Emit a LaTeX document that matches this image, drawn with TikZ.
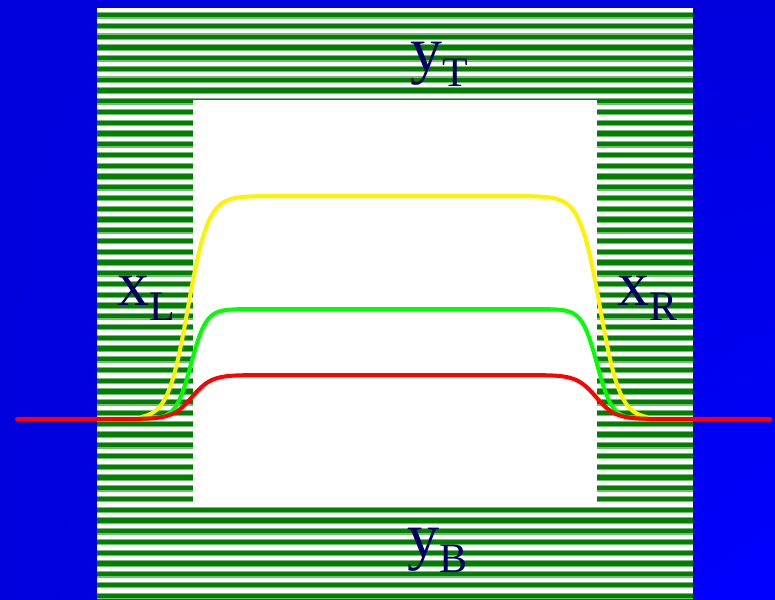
\documentclass[tikz,border=0pt]{standalone}
\usepackage{fontspec}
\setmainfont{Liberation Serif}
\usetikzlibrary{shadings}
\definecolor{bgdark}{RGB}{0,0,221}
\definecolor{bglight}{RGB}{0,0,255}
\definecolor{stripeg}{RGB}{0,128,0}
\definecolor{stripel}{RGB}{120,185,120}
\definecolor{labelc}{RGB}{0,0,100}
\tikzset{
  curve/.style={line width=4pt, line join=round, line cap=round},
  lbl/.style={anchor=base west, inner sep=0pt, text=labelc},
  declare function={lg(\u)=1/(1+exp(-max(-10,min(10,\u))));
                    bump(\x,\a,\b,\s)=lg((\x-\a)/\s)*lg((\b-\x)/\s);}
}
\newcommand{\biglbl}[2]{{\fontsize{64}{64}\selectfont #1}\raisebox{-15pt}{\fontsize{42}{42}\selectfont #2}}
\begin{document}
\begin{tikzpicture}[x=1pt,y=-1pt]
\useasboundingbox (0,0) rectangle (775,599);
% background
\shade[upper left=bgdark, upper right=bgdark, lower left=bgdark, lower right=bglight] (0,0) rectangle (775,599);
% striped frame
\fill[white] (97,8) rectangle (693,599);
\foreach \k in {0,...,55}{
  \pgfmathsetmacro{\yy}{8+\k*10.75}
  \fill[stripel] (97,\yy+4.0) rectangle (693,{min(\yy+10.6,599)});
  \fill[stripeg] (97,\yy+5.2) rectangle (693,{min(\yy+9.4,599)});
}
% inner white panel
\fill[white] (193,100) rectangle (597,503);
% curves
\draw[curve, yellow] (140,419) -- plot[domain=142:646,samples=220] (\x,{419-223*bump(\x,188,600,10)}) -- (648,419);
\draw[curve, green] (140,419) -- plot[domain=142:646,samples=220] (\x,{419-110*bump(\x,191,597,7.5)}) -- (648,419);
\draw[curve, red] (17,419) -- plot[domain=140:648,samples=220] (\x,{419-44*bump(\x,192,596,9.7)}) -- (770,419);
% labels
\node[lbl] (yT) at (410,72) {\biglbl{y}{T}};
\node[lbl] (xL) at (117,305) {\biglbl{x}{L}};
\node[lbl] (xR) at (617,305) {\biglbl{x}{R}};
\node[lbl] (yB) at (407,557) {\biglbl{y}{B}};
\end{tikzpicture}
\end{document}
